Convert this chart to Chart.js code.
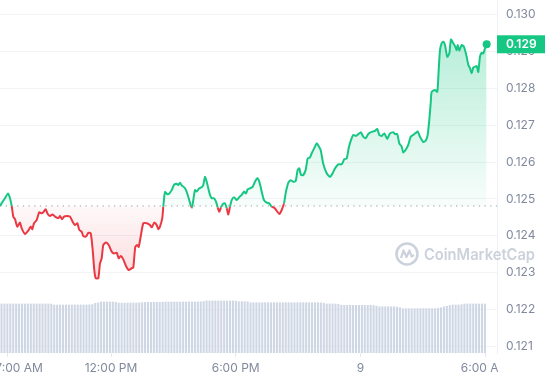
<!DOCTYPE html>
<html><head><meta charset="utf-8">
<script src="https://cdn.jsdelivr.net/npm/chart.js@4.4.1/dist/chart.umd.min.js"></script>
<style>html,body{margin:0;padding:0;background:#fff;overflow:hidden}#wrap{width:545px;height:380px;position:relative}</style>
</head><body><div id="wrap"><canvas id="c"></canvas></div>
<script>
// time in hours since midnight of day 1 (24 = midnight "9")
const priceTimes = [
6.658,6.788,6.899,7.043,7.139,7.221,7.298,7.380,7.490,7.620,
7.702,7.861,8.020,8.135,8.212,8.294,8.424,8.549,8.665,8.742,
8.857,8.954,9.064,9.194,9.305,9.464,9.545,9.642,9.738,9.868,
10.027,10.157,10.267,10.378,10.474,10.590,10.667,10.797,10.907,11.023,
11.119,11.196,11.263,11.389,11.470,11.552,11.629,11.759,11.889,12.033,
12.144,12.274,12.370,12.466,12.591,12.721,12.851,12.996,13.073,13.169,
13.265,13.333,13.429,13.554,13.718,13.877,13.958,14.083,14.199,14.276,
14.358,14.468,14.516,14.598,14.709,14.805,14.921,15.031,15.161,15.238,
15.320,15.402,15.513,15.609,15.719,15.849,15.898,15.960,16.042,16.124,
16.249,16.364,16.441,16.523,16.605,16.682,16.764,16.846,16.956,17.053,
17.134,17.211,17.293,17.375,17.486,17.568,17.645,17.726,17.808,17.919,
18.049,18.174,18.289,18.400,18.496,18.578,18.689,18.818,18.929,19.040,
19.136,19.252,19.362,19.492,19.617,19.733,19.858,19.974,20.099,20.214,
20.325,20.421,20.532,20.648,20.773,20.888,20.984,21.061,21.143,21.254,
21.369,21.466,21.576,21.658,21.783,21.899,22.010,22.091,22.217,22.380,
22.539,22.669,22.780,22.938,23.102,23.227,23.342,23.453,23.583,23.660,
23.790,23.900,24.030,24.141,24.256,24.353,24.463,24.593,24.704,24.815,
24.911,25.027,25.152,25.296,25.426,25.585,25.667,25.777,25.874,25.989,
26.066,26.196,26.307,26.421,26.547,26.677,26.758,26.869,27.028,27.143,
27.240,27.317,27.385,27.433,27.592,27.702,27.770,27.832,27.914,27.991,
28.073,28.183,28.280,28.361,28.472,28.554,28.636,28.684,28.761,28.876,
28.987,29.117,29.194,29.276,29.357,29.434,29.516,29.598,29.675,29.757,
29.839,29.916,29.998,30.079
];
const priceValues = [
0.12481,0.12493,0.12502,0.12515,0.12502,0.12481,0.12452,0.12445,0.12425,0.12436,
0.12420,0.12405,0.12414,0.12425,0.12418,0.12434,0.12443,0.12464,0.12461,0.12464,
0.12472,0.12459,0.12454,0.12458,0.12452,0.12448,0.12454,0.12445,0.12452,0.12454,
0.12452,0.12438,0.12429,0.12434,0.12416,0.12411,0.12399,0.12398,0.12408,0.12407,
0.12361,0.12307,0.12285,0.12285,0.12325,0.12339,0.12375,0.12382,0.12375,0.12357,
0.12352,0.12354,0.12339,0.12345,0.12336,0.12318,0.12307,0.12312,0.12314,0.12370,
0.12375,0.12370,0.12398,0.12434,0.12434,0.12429,0.12423,0.12436,0.12429,0.12418,
0.12425,0.12448,0.12479,0.12519,0.12513,0.12515,0.12524,0.12538,0.12541,0.12538,
0.12544,0.12537,0.12532,0.12524,0.12506,0.12481,0.12477,0.12497,0.12524,0.12520,
0.12529,0.12532,0.12538,0.12560,0.12547,0.12529,0.12511,0.12502,0.12502,0.12493,
0.12477,0.12465,0.12477,0.12486,0.12488,0.12475,0.12458,0.12479,0.12497,0.12505,
0.12497,0.12505,0.12511,0.12520,0.12515,0.12526,0.12529,0.12533,0.12547,0.12556,
0.12547,0.12520,0.12497,0.12490,0.12488,0.12479,0.12476,0.12468,0.12459,0.12470,
0.12488,0.12520,0.12544,0.12551,0.12547,0.12549,0.12579,0.12583,0.12565,0.12565,
0.12579,0.12610,0.12613,0.12624,0.12638,0.12651,0.12642,0.12633,0.12595,0.12570,
0.12560,0.12570,0.12583,0.12594,0.12594,0.12608,0.12610,0.12642,0.12665,0.12674,
0.12671,0.12676,0.12681,0.12669,0.12665,0.12674,0.12680,0.12683,0.12685,0.12690,
0.12674,0.12671,0.12678,0.12663,0.12678,0.12681,0.12676,0.12676,0.12651,0.12642,
0.12626,0.12635,0.12647,0.12669,0.12674,0.12680,0.12683,0.12669,0.12655,0.12658,
0.12674,0.12714,0.12760,0.12791,0.12796,0.12791,0.12850,0.12904,0.12923,0.12927,
0.12918,0.12886,0.12895,0.12933,0.12923,0.12915,0.12904,0.12918,0.12903,0.12918,
0.12913,0.12886,0.12864,0.12855,0.12841,0.12857,0.12859,0.12861,0.12845,0.12886,
0.12897,0.12895,0.12909,0.12920
];
const baselinePrice = 0.12481;
// 24h volume (millions), one bar per interval
const volumeStartHour = 6.73;
const volumeStepHours = 0.141;
const volumeValues = [
27.8,27.8,27.8,27.8,27.8,27.8,27.8,27.8,27.8,27.8,27.8,27.8,27.8,27.8,27.8,27.8,27.8,27.7,
27.2,27.2,27.2,27.2,27.2,27.2,27.2,27.2,27.2,27.2,27.2,27.2,27.3,27.5,
28.2,28.4,
28.9,28.9,28.9,28.9,28.9,28.8,
28.3,28.3,28.3,28.3,28.3,28.3,28.3,28.4,28.5,
28.7,28.7,28.7,28.7,28.7,28.7,28.8,
28.9,28.9,28.9,28.9,28.9,28.9,28.9,28.9,28.9,28.9,28.9,28.9,29.0,29.2,
29.5,29.5,29.5,29.5,29.5,29.5,29.5,29.5,29.5,29.5,29.4,
29.1,29.1,29.1,29.0,
28.5,28.5,28.5,28.5,28.5,28.5,28.5,28.5,28.5,28.5,28.5,28.5,28.5,28.5,28.5,28.5,28.5,28.5,28.5,28.5,28.5,28.5,28.5,28.5,28.4,28.2,
27.8,27.8,27.8,27.8,27.6,
27.0,27.0,27.0,27.0,27.0,27.0,27.0,27.0,27.0,27.0,27.0,26.9,26.6,
26.2,26.2,26.2,26.2,26.2,26.2,26.0,25.7,
25.1,25.1,25.1,25.1,25.1,25.1,25.1,25.1,25.1,25.1,25.1,25.1,25.3,25.7,
26.2,26.5,
27.0,27.2,27.2,27.2,27.4,
27.8,27.8,27.8,27.8,27.8,27.8,27.8,27.8
];
const yTickValues = [0.121,0.122,0.123,0.124,0.125,0.126,0.127,0.128,0.129,0.130];
const xTickHours = [7,12,18,24,30];
const xTickLabels = ['7:00 AM','12:00 PM','6:00 PM','9','6:00 AM'];

const GREEN = '#16c784', RED = '#ea3943';
const X_MIN = 6.658, X_MAX = 30.576;

const pricePts = priceTimes.map((t,i)=>({x:t,y:priceValues[i]}));
const volPts = volumeValues.map((v,i)=>({x:volumeStartHour+i*volumeStepHours,y:v}));
const lastIdx = pricePts.length-1;

Chart.defaults.font.family = 'Inter, "Noto Sans", sans-serif';

function noPad(s){ s.paddingTop=0; s.paddingBottom=0; s.paddingLeft=0; s.paddingRight=0; }

const overlay = {
  id:'overlay',
  beforeDatasetsDraw(chart){
    const ctx = chart.ctx;
    ctx.save();
    const col = '#ccd2dc';
    ctx.strokeStyle = col; ctx.lineWidth = 2.6;
    ctx.beginPath(); ctx.arc(407,254,10.5,0,Math.PI*2); ctx.stroke();
    ctx.lineWidth = 2.2; ctx.lineJoin='round';
    ctx.beginPath();
    ctx.moveTo(401,258); ctx.lineTo(403.5,250.5); ctx.lineTo(406.5,257); ctx.lineTo(409.5,250.5); ctx.lineTo(411.5,256.5); ctx.lineTo(414,255);
    ctx.stroke();
    ctx.fillStyle = col;
    ctx.font = '600 16px Inter, sans-serif';
    ctx.textBaseline = 'middle';
    const w = ctx.measureText('CoinMarketCap').width;
    ctx.translate(424,255);
    ctx.scale(111/w,1);
    ctx.fillText('CoinMarketCap',0,0);
    ctx.restore();
  },
  afterDraw(chart){
    const ctx = chart.ctx;
    const ca = chart.chartArea;
    ctx.save();
    // x-axis labels are clipped at the plot's right edge
    ctx.fillStyle = '#ffffff';
    ctx.fillRect(ca.right+1, ca.bottom+2, chart.width-ca.right, chart.height-ca.bottom);
    const meta = chart.getDatasetMeta(0);
    const pt = meta.data[lastIdx];
    ctx.fillStyle = GREEN;
    ctx.fillRect(ca.right, pt.y-9, chart.width-ca.right, 18);
    ctx.fillStyle = '#ffffff';
    ctx.font = '600 12px Inter, sans-serif';
    ctx.textBaseline = 'middle';
    ctx.fillText(priceValues[lastIdx].toFixed(3), ca.right+9, pt.y+0.5);
    ctx.restore();
  }
};

const chart = new Chart(document.getElementById('c'), {
  data:{
    datasets:[
      {
        type:'line', data:pricePts, xAxisID:'x', yAxisID:'y', order:1,
        borderWidth:2, tension:0.2,
        pointRadius:(c)=>c.dataIndex===lastIdx?4:0,
        pointBackgroundColor:GREEN, pointBorderWidth:0, pointHoverRadius:0,
        borderColor:GREEN,
        segment:{borderColor:(c)=>((c.p0.parsed.y+c.p1.parsed.y)/2>=baselinePrice?GREEN:RED)},
        fill:{target:{value:baselinePrice}, above:'rgba(22,199,132,0.15)', below:'rgba(234,57,67,0.08)'}
      },
      {
        type:'line', data:[{x:X_MIN,y:baselinePrice},{x:X_MAX,y:baselinePrice}], xAxisID:'x', yAxisID:'y', order:2,
        borderColor:'#9aa0aa', borderWidth:1, borderDash:[1.3,4.4], pointRadius:0, fill:false
      },
      {
        type:'bar', data:volPts, xAxisID:'x', yAxisID:'yv', order:3,
        backgroundColor:'#cfd6e4', barThickness:1.4
      }
    ]
  },
  options:{
    responsive:true, maintainAspectRatio:false, animation:false,
    layout:{autoPadding:false, padding:0},
    plugins:{legend:{display:false}, tooltip:{enabled:false}},
    scales:{
      x:{
        type:'linear', min:X_MIN, max:X_MAX, offset:false,
        afterBuildTicks:(s)=>{s.ticks = xTickHours.map(v=>({value:v}));},
        afterFit:(s)=>{s.height = 27; noPad(s);},
        ticks:{autoSkip:false, maxRotation:0, padding:4, color:'#808a9d', font:{size:12},
          callback:(v)=>{const i=xTickHours.indexOf(v); if(i<0) return ''; return i===0 ? '\u2002\u2002\u2002\u2002' + xTickLabels[i] : xTickLabels[i];}},
        grid:{drawOnChartArea:false, drawTicks:true, tickLength:4, color:'#e6e9ef', offset:false},
        border:{display:false}
      },
      y:{
        type:'linear', position:'right', min:0.120818, max:0.130402,
        afterBuildTicks:(s)=>{s.ticks = yTickValues.map(v=>({value:v}));},
        afterFit:(s)=>{s.width = 48; noPad(s);},
        ticks:{padding:9, color:'#808a9d', font:{size:12}, callback:(v)=>v.toFixed(3)},
        grid:{color:'#f1f3f6', drawTicks:false},
        border:{display:true, color:'#eef0f4'}
      },
      yv:{type:'linear', display:false, min:0, max:200}
    }
  },
  plugins:[overlay]
});

// gradient fills built from the scale pixels
(function(){
  const ctx = chart.ctx, ys = chart.scales.y;
  const yb = ys.getPixelForValue(baselinePrice);
  const yTop = ys.getPixelForValue(0.1293);
  const yBot = ys.getPixelForValue(0.1228);
  const g = ctx.createLinearGradient(0,yTop,0,yb);
  g.addColorStop(0,'rgba(22,199,132,0.30)');
  g.addColorStop(1,'rgba(22,199,132,0.03)');
  const r = ctx.createLinearGradient(0,yb,0,yBot);
  r.addColorStop(0,'rgba(234,57,67,0.03)');
  r.addColorStop(1,'rgba(234,57,67,0.18)');
  chart.data.datasets[0].fill.above = g;
  chart.data.datasets[0].fill.below = r;
  chart.update('none');
})();
</script>
</body></html>
